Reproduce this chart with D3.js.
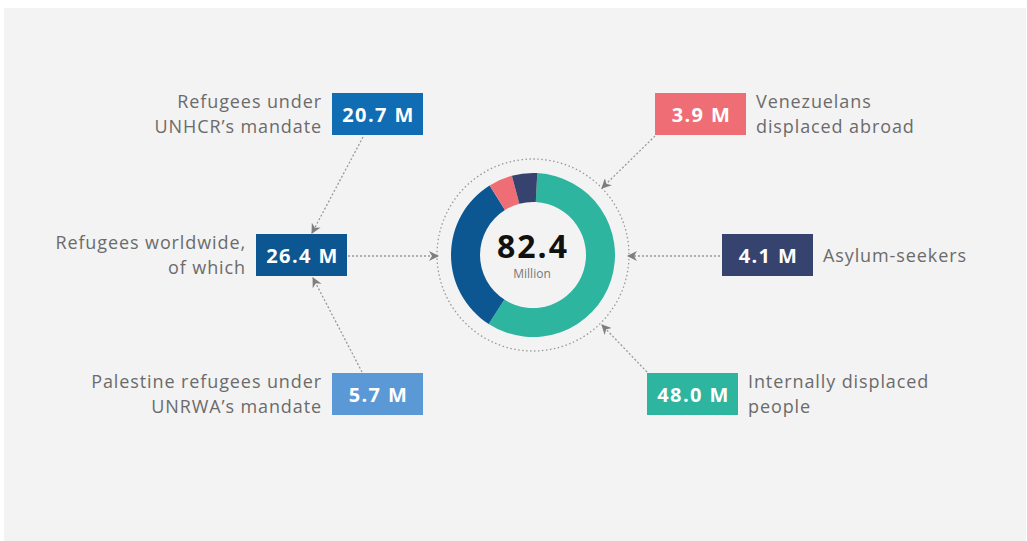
<!DOCTYPE html>
<html>
<head>
<meta charset="utf-8">
<script src="https://cdn.jsdelivr.net/npm/d3@7"></script>
<style>
  body { margin: 0; background: #fff; }
  svg { display: block; }
</style>
</head>
<body>
<svg id="chart" width="1027" height="541"></svg>
<script>
// data
var categories = ["Refugees under UNHCR's mandate", "Refugees worldwide, of which", "Palestine refugees under UNRWA's mandate",
                  "Venezuelans displaced abroad", "Asylum-seekers", "Internally displaced people"];
var labelLines = [["Refugees under", "UNHCR\u2019s mandate"], ["Refugees worldwide,", "of which"], ["Palestine refugees under", "UNRWA\u2019s mandate"],
                  ["Venezuelans", "displaced abroad"], ["Asylum-seekers"], ["Internally displaced", "people"]];
var values = [20.7, 26.4, 5.7, 3.9, 4.1, 48.0];
var colors = ["#106db4", "#0c5792", "#5b98d6", "#ef6e76", "#36436e", "#2db59f"];

// donut order clockwise from top: IDP, refugees worldwide, venezuelans, asylum
var ringOrder = [5, 1, 3, 4];
var total = 82.4;

var font = "'Open Sans', sans-serif";
var svg = d3.select("#chart");
svg.append("rect").attr("x", 4).attr("y", 8).attr("width", 1022).attr("height", 533).attr("fill", "#f3f3f3");

var cx = 533, cy = 255;
var defs = svg.append("defs");
defs.append("marker")
	.attr("id", "arrow")
	.attr("viewBox", "0 0 10 10")
	.attr("refX", 9).attr("refY", 5)
	.attr("markerWidth", 10).attr("markerHeight", 10)
	.attr("markerUnits", "userSpaceOnUse")
	.attr("orient", "auto")
	.append("path")
	.attr("d", "M0,0 L10,5 L0,10 L3,5 Z")
	.attr("fill", "#7e7e7e");

// dotted outer circle
svg.append("circle")
	.attr("cx", cx).attr("cy", cy).attr("r", 96)
	.attr("fill", "none")
	.attr("stroke", "#999")
	.attr("stroke-width", 1.3)
	.attr("stroke-dasharray", "1.5 2.5");

var start = 3 * Math.PI / 180;
var pie = d3.pie().sort(null).value(function(d){ return values[d]; })
	.startAngle(start).endAngle(start + 2 * Math.PI);
var arc = d3.arc().innerRadius(53).outerRadius(82);

svg.append("g")
	.attr("transform", "translate(" + cx + "," + cy + ")")
	.selectAll("path")
	.data(pie(ringOrder))
	.enter()
	.append("path")
	.attr("d", arc)
	.attr("fill", function(d){ return colors[d.data]; });

svg.append("text")
	.attr("x", cx).attr("y", cy + 3)
	.attr("text-anchor", "middle")
	.attr("font-family", font)
	.attr("font-weight", 700)
	.attr("font-size", 32)
	.attr("letter-spacing", 2)
	.attr("fill", "#111")
	.text(d3.format(".1f")(total));
svg.append("text")
	.attr("x", cx - 1).attr("y", cy + 23)
	.attr("text-anchor", "middle")
	.attr("font-family", font)
	.attr("font-size", 12)
	.attr("fill", "#777")
	.text("Million");

// box layout: left column labels sit left of box; right column labels sit right of box
var boxes = [
	{x: 332, y: 93, side: "left"},
	{x: 256, y: 234, side: "left"},
	{x: 332, y: 373, side: "left"},
	{x: 655, y: 93, side: "right"},
	{x: 722, y: 234, side: "right"},
	{x: 647, y: 373, side: "right"}
];
var bw = 91, bh = 42;

var g = svg.selectAll("g.item")
	.data(d3.range(values.length))
	.enter()
	.append("g")
	.classed("item", true)
	.attr("transform", function(i){ return "translate(" + boxes[i].x + "," + boxes[i].y + ")"; });

g.append("rect")
	.attr("width", bw).attr("height", bh)
	.attr("fill", function(i){ return colors[i]; });

g.append("text")
	.attr("x", bw / 2 + 1).attr("y", 29)
	.attr("text-anchor", "middle")
	.attr("font-family", font)
	.attr("font-weight", 700)
	.attr("font-size", 20)
	.attr("letter-spacing", 1.4)
	.attr("fill", "#fff")
	.text(function(i){ return d3.format(".1f")(values[i]) + " M"; });

g.each(function(i){
	var lines = labelLines[i];
	var left = boxes[i].side === "left";
	var t = d3.select(this).append("text")
		.attr("font-family", font)
		.attr("font-size", 18)
		.attr("letter-spacing", 0.9)
		.attr("fill", "#6b6b6b")
		.attr("text-anchor", left ? "end" : "start");
	var x = left ? -10 : bw + 10;
	var y0 = lines.length === 1 ? 28 : 15;
	lines.forEach(function(s, k){
		t.append("tspan").attr("x", x).attr("y", y0 + k * 25).text(s);
	});
});

// connectors
var links = [
	[363, 137, 312, 233],
	[362, 372, 313, 278],
	[348, 256, 438, 256],
	[655, 136, 602, 188],
	[720, 256, 628, 256],
	[647, 372, 602, 325]
];
svg.selectAll("line.link")
	.data(links)
	.enter()
	.append("line")
	.classed("link", true)
	.attr("x1", function(d){ return d[0]; })
	.attr("y1", function(d){ return d[1]; })
	.attr("x2", function(d){ return d[2]; })
	.attr("y2", function(d){ return d[3]; })
	.attr("stroke", "#999")
	.attr("stroke-width", 1.3)
	.attr("stroke-dasharray", "2 2")
	.attr("marker-end", "url(#arrow)");
</script>
</body>
</html>
